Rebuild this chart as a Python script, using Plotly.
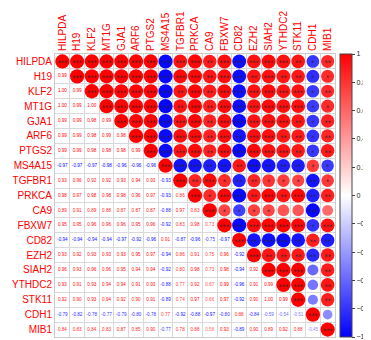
import plotly.graph_objects as go
import numpy as np

genes = ["HILPDA", "H19", "KLF2", "MT1G", "GJA1", "ARF6", "PTGS2", "MS4A15", "TGFBR1",
         "PRKCA", "CA9", "FBXW7", "CD82", "EZH2", "SIAH2", "YTHDC2", "STK11", "CDH1", "MIB1"]

# lower-triangle correlations, row i holds corr with genes[0..i-1]
r_H19 = [0.99]
r_KLF2 = [1.00, 0.99]
r_MT1G = [1.00, 0.99, 1.00]
r_GJA1 = [0.99, 0.99, 0.98, 0.99]
r_ARF6 = [0.99, 0.99, 0.98, 0.99, 0.98]
r_PTGS2 = [0.99, 0.99, 0.98, 0.98, 0.98, 0.99]
r_MS4A15 = [-0.97, -0.97, -0.97, -0.98, -0.96, -0.96, -0.96]
r_TGFBR1 = [0.93, 0.96, 0.92, 0.92, 0.93, 0.94, 0.93, -0.93]
r_PRKCA = [0.98, 0.97, 0.98, 0.98, 0.98, 0.96, 0.97, -0.93, 0.86]
r_CA9 = [0.89, 0.91, 0.89, 0.88, 0.87, 0.87, 0.87, -0.88, 0.97, 0.83]
r_FBXW7 = [0.95, 0.95, 0.96, 0.96, 0.96, 0.95, 0.96, -0.92, 0.83, 0.98, 0.73]
r_CD82 = [-0.94, -0.94, -0.94, -0.94, -0.97, -0.92, -0.96, 0.91, -0.87, -0.96, -0.75, -0.97]
r_EZH2 = [0.93, 0.92, 0.93, 0.93, 0.93, 0.95, 0.97, -0.94, 0.86, 0.91, 0.75, 0.96, -0.92]
r_SIAH2 = [0.96, 0.93, 0.96, 0.96, 0.95, 0.94, 0.94, -0.92, 0.80, 0.98, 0.73, 0.98, -0.94, 0.92]
r_YTHDC2 = [0.93, 0.91, 0.93, 0.94, 0.94, 0.91, 0.93, -0.88, 0.77, 0.92, 0.67, 0.99, -0.96, 0.91, 0.99]
r_STK11 = [0.92, 0.90, 0.93, 0.94, 0.92, 0.90, 0.91, -0.89, 0.74, 0.97, 0.66, 0.97, -0.92, 0.90, 1.00, 0.99]
r_CDH1 = [-0.79, -0.82, -0.78, -0.77, -0.79, -0.80, -0.78, 0.77, -0.92, -0.88, -0.97, -0.80, 0.88, -0.84, -0.59, -0.54, -0.51]
r_MIB1 = [0.84, 0.83, 0.84, 0.83, 0.87, 0.85, 0.90, -0.77, 0.78, 0.88, 0.58, 0.93, -0.89, 0.90, 0.89, 0.92, 0.88, -0.45]

lower_rows = [[], r_H19, r_KLF2, r_MT1G, r_GJA1, r_ARF6, r_PTGS2, r_MS4A15, r_TGFBR1, r_PRKCA,
              r_CA9, r_FBXW7, r_CD82, r_EZH2, r_SIAH2, r_YTHDC2, r_STK11, r_CDH1, r_MIB1]

# critical |r| for significance levels (n = 8 samples)
sig_levels = [(0.925, "***"), (0.834, "**"), (0.707, "*")]

n = len(genes)
M = np.eye(n)
for i, row in enumerate(lower_rows):
    for j, v in enumerate(row):
        M[i, j] = v
        M[j, i] = v


def col_of(v):
    if v < 0:
        c = int(round(255 * (1 + v)))
        return f"rgb({c},{c},255)"
    c = int(round(255 * (1 - v)))
    return f"rgb(255,{c},{c})"


def stars(v):
    for thr, s in sig_levels:
        if abs(v) >= thr - 1e-9:
            return s
    return ""


L, R, T, B = 47, 44, 46, 11
W, H = 371, 340
cell_px = (W - L - R) / n

fig = go.Figure()

# lower triangle numbers
lx, ly, lt, lc = [], [], [], []
for i in range(n):
    for j in range(i):
        lx.append(j); ly.append(i)
        lt.append(f"{M[i, j]:.2f}")
        lc.append(col_of(M[i, j]))
fig.add_trace(go.Scatter(x=lx, y=ly, mode="text", text=lt,
                         textfont=dict(size=4.6, color=lc, family="Liberation Sans"),
                         hoverinfo="skip", showlegend=False))

# upper triangle circles
ux, uy, uv, us, ut = [], [], [], [], []
for i in range(n):
    for j in range(i, n):
        ux.append(j); uy.append(i)
        uv.append(M[i, j])
        us.append(0.97 * np.sqrt(abs(M[i, j])) * cell_px)
        ut.append(stars(M[i, j]))
fig.add_trace(go.Scatter(
    x=ux, y=uy, mode="markers",
    marker=dict(size=us, color=uv, cmin=-1, cmax=1, opacity=1,
                colorscale=[[0, "rgb(0,0,255)"], [0.5, "rgb(255,255,255)"], [1, "rgb(255,0,0)"]],
                line=dict(width=0),
                showscale=True,
                colorbar=dict(thickness=12, lenmode="pixels", len=283,
                              x=1.018, xanchor="left", xpad=0,
                              y=0.5, yanchor="middle", ypad=0,
                              outlinewidth=1, outlinecolor="#444",
                              tickvals=[1, 0.8, 0.6, 0.4, 0.2, 0, -0.2, -0.4, -0.6, -0.8, -1],
                              ticktext=["1", "0.8", "0.6", "0.4", "0.2", "0", "\u22120.2", "\u22120.4", "\u22120.6", "\u22120.8", "\u22121"],
                              ticks="outside", ticklen=3, tickcolor="#444",
                              tickfont=dict(size=7, color="#222", family="Liberation Sans"))),
    hoverinfo="skip", showlegend=False))
fig.add_trace(go.Scatter(x=ux, y=[v + 0.14 for v in uy], mode="text", text=ut,
                         textfont=dict(size=6.5, color="#222", family="DejaVu Sans"),
                         hoverinfo="skip", showlegend=False))

fig.update_layout(
    width=W, height=H, margin=dict(l=L, r=R, t=T, b=B, autoexpand=False),
    paper_bgcolor="white", plot_bgcolor="white",
    xaxis=dict(range=[-0.5, n - 0.5], side="top", tickmode="array", automargin=False,
               tickvals=list(range(n)), ticktext=genes, tickangle=-90,
               tickfont=dict(size=10, color="red", family="Liberation Sans"),
               showgrid=False, zeroline=False, showline=True, linecolor="#ccc", mirror=True,
               minor=dict(tick0=0.5, dtick=1, showgrid=True, gridcolor="#d9d9d9", gridwidth=1, ticks=""),
               fixedrange=True),
    yaxis=dict(range=[n - 0.5, -0.5], tickmode="array", automargin=False,
               tickvals=list(range(n)), ticktext=genes,
               tickfont=dict(size=10, color="red", family="Liberation Sans"),
               showgrid=False, zeroline=False, showline=True, linecolor="#ccc", mirror=True,
               minor=dict(tick0=0.5, dtick=1, showgrid=True, gridcolor="#d9d9d9", gridwidth=1, ticks=""),
               fixedrange=True),
)

fig.write_html("out.html")
